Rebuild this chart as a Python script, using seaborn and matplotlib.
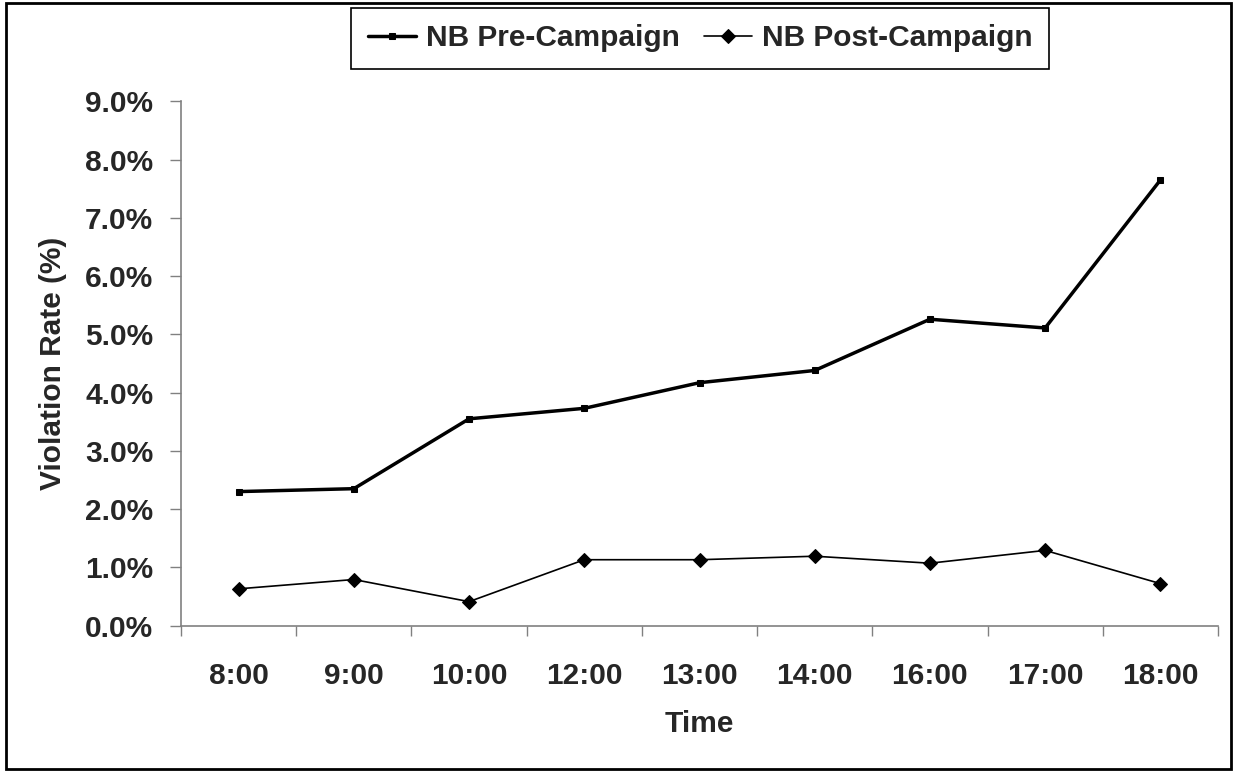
import matplotlib
matplotlib.use("Agg")
import matplotlib.pyplot as plt
from matplotlib.patches import Rectangle
from matplotlib.ticker import FuncFormatter, FixedLocator
import numpy as np
import pandas as pd
import seaborn as sns

# data
times = ["8:00", "9:00", "10:00", "12:00", "13:00", "14:00", "16:00", "17:00", "18:00"]
pre_campaign = [2.30, 2.35, 3.55, 3.73, 4.17, 4.38, 5.26, 5.11, 7.65]
post_campaign = [0.63, 0.79, 0.41, 1.13, 1.13, 1.19, 1.07, 1.29, 0.72]

pre_df = pd.DataFrame({"Time": times, "Rate": pre_campaign})
post_df = pd.DataFrame({"Time": times, "Rate": post_campaign})

sns.set_theme(style="white")
plt.rcParams['font.family'] = ['Liberation Sans', 'DejaVu Sans']
plt.rcParams['font.weight'] = 'bold'

fig = plt.figure(figsize=(12.35, 7.71), dpi=100)
ax = fig.add_axes([0.1466, 0.1887, 0.8396, 0.6797])

sns.lineplot(data=pre_df, x="Time", y="Rate", ax=ax, color="black", linewidth=2.5,
             marker="s", markersize=5, markeredgecolor="black", label="NB Pre-Campaign")
sns.lineplot(data=post_df, x="Time", y="Rate", ax=ax, color="black", linewidth=1.2,
             marker="D", markersize=7, markeredgecolor="black", label="NB Post-Campaign")

ax.set_xlim(-0.5, len(times) - 0.5)
ax.set_ylim(0, 9)
ax.set_yticks(np.arange(0, 9.5, 1))
ax.yaxis.set_major_formatter(FuncFormatter(lambda v, p: "{:.1f}%".format(v)))

ax.set_xticks(range(len(times)))
ax.set_xticklabels(times)
ax.xaxis.set_minor_locator(FixedLocator(np.arange(-0.5, len(times), 1)))

for side in ["top", "right"]:
    ax.spines[side].set_visible(False)
for side in ["left", "bottom"]:
    ax.spines[side].set_color("#808080")
    ax.spines[side].set_linewidth(1.2)

ax.tick_params(axis="x", which="major", length=0, pad=26, labelsize=21.5)
ax.tick_params(axis="x", which="minor", length=7, width=1, color="#808080", direction="out", bottom=True)
ax.tick_params(axis="y", which="major", length=8, width=1, color="#808080", direction="out",
               pad=12, labelsize=21.5, left=True)
for lbl in ax.get_xticklabels() + ax.get_yticklabels():
    lbl.set_fontweight("bold")

ax.set_xlabel("Time", fontsize=21.5, fontweight="bold", labelpad=15)
ax.set_ylabel("Violation Rate (%)", fontsize=21.5, fontweight="bold", labelpad=13)
ax.grid(False)

leg = ax.legend(loc="upper center", bbox_to_anchor=(0.567, 0.9896), bbox_transform=fig.transFigure,
                ncol=2, frameon=True, fancybox=False, framealpha=1, edgecolor="black",
                prop={"size": 21.5, "weight": "bold"}, handlelength=1.6, handletextpad=0.35,
                columnspacing=0.8, borderpad=0.55, borderaxespad=0)
leg.get_frame().set_linewidth(1.2)

# outer border around the chart
fig.patches.append(Rectangle((0.005, 0.003), 0.992, 0.993, transform=fig.transFigure,
                             fill=False, edgecolor="black", linewidth=2))

fig.savefig("out.png", dpi=100)
